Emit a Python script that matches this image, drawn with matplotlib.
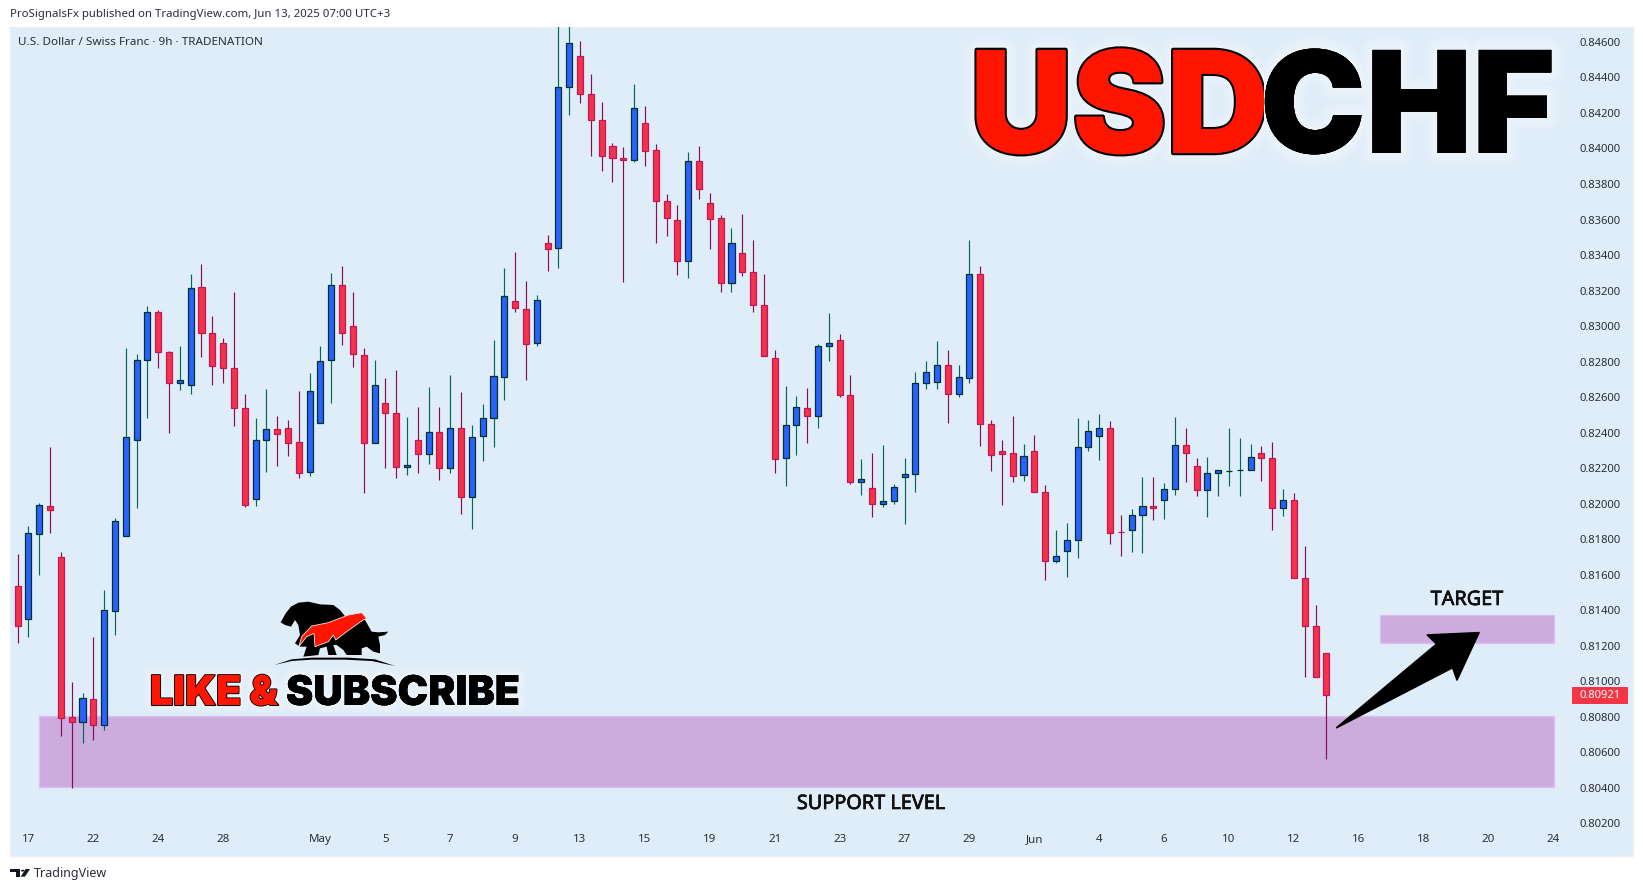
import matplotlib
matplotlib.use("Agg")
import matplotlib.pyplot as plt
import matplotlib.patheffects as pe
from matplotlib.patches import Polygon, Rectangle, Circle
from matplotlib.transforms import Bbox
import numpy as np

# Prices are given in units of 0.00001
opens_e5 = [81535,81349,81827,81985,81698,80797,80772,80898,80755,81397,
            81819,82360,82807,83078,82852,82678,82666,83218,82959,82903,
            82762,82537,82024,82357,82419,82424,82345,82177,82452,82807,
            83230,82999,82835,82340,82565,82509,82205,82357,82278,82402,
            82199,82424,82036,82379,82481,82712,83140,83095,82903,83466,
            83438,84345,84519,84305,84159,84013,83945,83934,84142,83990,
            83703,83596,83365,83928,83692,83607,83241,83410,83303,83117,
            82819,82255,82441,82537,82492,82886,82920,82610,82120,82086,
            81996,82013,82148,82165,82678,82683,82779,82616,82706,83292,
            82447,82295,82284,82160,82295,82064,81675,81732,81794,82317,
            82379,82424,81839,81850,81934,81985,82019,82081,82329,82210,
            82075,82171,82182,82188,82188,82284,82255,81974,82019,81580,
            81309,81157]
highs_e5 = [81716,81874,82004,82319,81728,80996,80934,81249,81514,81917,
            82875,82843,83113,83091,82860,82888,83293,83350,83057,82933,
            83192,82618,82482,82646,82494,82471,82634,82736,82888,83299,
            83338,83192,82877,82809,82708,82753,82488,82544,82657,82544,
            82725,82629,82443,82561,82922,83327,83417,83254,83175,83513,
            84700,84700,84606,84420,84262,84031,84009,84363,84240,84026,
            83744,83682,83980,84014,83750,83626,83552,83631,83485,83293,
            82865,82663,82606,82651,82899,83074,82955,82725,82251,82285,
            82330,82111,82257,82741,82803,82916,82865,82781,83485,83338,
            82471,82358,82494,82336,82387,82105,81851,81891,82482,82471,
            82505,82465,81936,81970,82150,82150,82116,82488,82426,82257,
            82263,82190,82426,82370,82336,82325,82347,82082,82060,81762,
            81429,81157]
lows_e5 = [81215,81249,81600,81836,80691,80400,80654,80670,80727,81262,
           81819,81975,82482,82764,82398,82640,82619,82826,82668,82680,
           82437,81981,81987,82178,82212,82268,82144,82156,82452,82567,
           82893,82770,82060,82340,82201,82144,82161,82173,82223,82133,
           82173,81942,81857,82240,82319,82584,83079,82696,82888,83310,
           83327,84189,84256,83958,83873,83811,83248,83924,83902,83468,
           83507,83288,83271,83716,83434,83192,83192,83282,83081,82830,
           82173,82099,82274,82341,82426,82803,82601,82111,82049,81925,
           81981,81998,81885,82066,82646,82646,82454,82601,82680,82325,
           82184,81992,82122,82127,82064,81570,81666,81587,81694,82296,
           82246,81773,81705,81728,81722,81908,81914,82049,82122,82043,
           81925,82043,82099,82043,82188,82127,81851,81930,81580,81024,
           81022,80562]
closes_e5 = [81313,81833,81991,81963,80794,80772,80904,80755,81399,81900,
             82374,82807,83078,82852,82678,82695,83213,82959,82773,82762,
             82537,81991,82357,82419,82391,82340,82171,82633,82802,83230,
             82959,82841,82340,82666,82509,82205,82216,82278,82402,82199,
             82424,82036,82374,82481,82717,83168,83100,82897,83145,83432,
             84345,84593,84305,84159,83956,83945,83934,84227,83984,83703,
             83607,83365,83928,83770,83601,83241,83466,83303,83117,82830,
             82250,82441,82543,82492,82886,82903,82610,82120,82137,81996,
             82013,82092,82165,82678,82740,82779,82616,82712,83292,82447,
             82272,82278,82154,82267,82064,81675,81703,81794,82317,82407,
             82424,81833,81838,81934,81985,81974,82081,82329,82284,82075,
             82171,82188,82183,82189,82261,82255,81974,82019,81580,81309,
             81022,80921]

price_ticks = [0.846,0.844,0.842,0.840,0.838,0.836,0.834,0.832,0.830,0.828,0.826,0.824,
               0.822,0.820,0.818,0.816,0.814,0.812,0.810,0.808,0.806,0.804,0.802]
time_tick_bars = [1,7,13,19,28,34,40,46,52,58,64,70,76,82,88,94,100,106,112,118,124,130,136,142]
time_tick_labels = ["17","22","24","28","May","5","7","9","13","15","19","21","23","27","29",
                    "Jun","4","6","10","12","16","18","20","24"]
last_price = 0.80921
support_zone = (2, 142, 0.80406, 0.80804)
target_zone = (126, 142, 0.81217, 0.81371)

W, H = 1643, 891
BG = "#DFEDF9"
fig = plt.figure(figsize=(W/100, H/100), dpi=100, facecolor="white")
L, R, T, B = 10, 1633, 27, 856
ax = fig.add_axes([L/W, 1-B/H, (R-L)/W, (B-T)/H], facecolor=BG)

def X(px): return px/W
def Y(py): return 1-py/H
def fp(points, ox=0, oy=0, s=1/3):
    return [(X(ox+a*s), Y(oy+b*s)) for a, b in points]

o = np.array(opens_e5)/1e5; h = np.array(highs_e5)/1e5
l = np.array(lows_e5)/1e5;  c = np.array(closes_e5)/1e5
bars = np.arange(len(o))
up = c >= o

ax.set_xlim(-0.703, 149.35)
ax.set_ylim(0.80016, 0.84684)

# Zones
for (x0, x1, y0, y1) in (support_zone, target_zone):
    ax.add_patch(Rectangle((x0, y0), x1-x0, y1-y0, facecolor="#CCABDF", edgecolor="#DDBFF0",
                           lw=1.0, zorder=1))

# Clipped bar at the left edge
ax.vlines([-0.69], 0.81310, 0.81540, color="#8F9AA0", lw=0.8, zorder=2)

# Candles
ax.vlines(bars[up], l[up], h[up], color="#00695C", lw=0.85, zorder=3)
ax.vlines(bars[~up], l[~up], h[~up], color="#880E4F", lw=0.85, zorder=3)
bw = 0.56
ax.bar(bars[up], (c-o)[up], bottom=o[up], width=bw, facecolor="#2962FF",
       edgecolor="#00332F", lw=0.9, zorder=4)
ax.bar(bars[~up], (o-c)[~up], bottom=c[~up], width=bw, facecolor="#F23349",
       edgecolor="#C2185B", lw=0.9, zorder=4)

# Axes
ax.yaxis.tick_right()
ax.set_yticks(price_ticks)
ax.set_yticklabels([f"{p:.5f}" for p in price_ticks])
ax.set_xticks(time_tick_bars)
ax.set_xticklabels(time_tick_labels)
ax.tick_params(axis="y", length=0, pad=-38.2, labelsize=8.1, labelcolor="#2A2E39")
ax.tick_params(axis="x", length=0, pad=-15.5, labelsize=8.3, labelcolor="#2A2E39")
for lab in ax.get_xticklabels()+ax.get_yticklabels():
    lab.set_family("Noto Sans")
for s in ax.spines.values():
    s.set_color("#EDF0F3"); s.set_linewidth(1.0)

# Last price tag
fig.patches.append(Rectangle((X(1572), Y(703.7)), 55.7/W, 16.4/H, transform=fig.transFigure,
                             facecolor="#F23645", edgecolor="none", zorder=5))
fig.text(X(1600), Y(695.5), f"{last_price:.5f}", color="white", fontsize=8.1, weight="bold",
         family="Noto Sans", ha="center", va="center", zorder=6)

# Header / footer text
fig.text(X(10), Y(14.5), "ProSignalsFx published on TradingView.com, Jun 13, 2025 07:00 UTC+3",
         family="Noto Sans", fontsize=8.22, color="#2A2E39", ha="left", va="center")
fig.text(X(18), Y(42.5), "U.S. Dollar / Swiss Franc · 9h · TRADENATION",
         family="Noto Sans", fontsize=8.4, color="#2A2E39", ha="left", va="center")
fig.text(X(34), Y(874), "TradingView", family="Noto Sans", fontsize=9.0, color="#2A2E39",
         ha="left", va="center")
for pts in ([(30,57),(60,57),(60,80),(47,80),(47,65),(30,65)],
            [(77,57),(90,57),(75,80),(62,80)]):
    fig.patches.append(Polygon(fp(pts, 0, 850), closed=True, transform=fig.transFigure,
                               facecolor="#131722", edgecolor="none"))
fig.patches.append(Circle((X(68/3), Y(850+62/3)), 1.7/W, transform=fig.transFigure,
                          facecolor="#131722", edgecolor="none"))

# Zone labels
label_font = dict(family="Noto Sans", fontsize=14.3, color="#111111", ha="center", va="center")
bolder = [pe.withStroke(linewidth=0.45, foreground="#111111"), pe.Normal()]
fig.text(X(871), Y(804), "SUPPORT LEVEL", **label_font).set_path_effects(bolder)
fig.text(X(1467), Y(600), "TARGET", **label_font).set_path_effects(bolder)

# Arrow
arrow = [(290,923),(590,672),(562,645),(717,638),(651,780),(638,743)]
fig.patches.append(Polygon(fp(arrow, 1240, 420), closed=True, transform=fig.transFigure,
                           facecolor="black", edgecolor="black", lw=1.2, joinstyle="round", zorder=7))

# Title
def glow(width):
    return [pe.withStroke(linewidth=width*k, foreground="white", alpha=a)
            for k, a in ((1.0, 0.07), (0.75, 0.10), (0.5, 0.14), (0.3, 0.18))]
title_font = dict(family="Inter", weight=900, fontsize=102, ha="left", va="baseline")
t2 = fig.text(X(1260), Y(153), "CHF", color="black", zorder=8, **title_font)
t2.set_path_effects(glow(20)+[pe.Normal()])
t1 = fig.text(X(970), Y(153), "USD", color="#FF1500", zorder=9, **title_font)
t1.set_path_effects(glow(20)+[pe.withStroke(linewidth=3.2, foreground="black"), pe.Normal()])
t1.set_clip_box(Bbox.from_extents(900, 0, 1264, H))
t1.set_clip_on(True)

# Like & Subscribe
sub_font = dict(family="Inter", weight=900, fontsize=29.5, ha="left", va="baseline", zorder=8)
t3 = fig.text(X(150), Y(705), "LIKE &", color="#FF1500", **sub_font)
t3.set_path_effects(glow(12)+[pe.withStroke(linewidth=1.5, foreground="black"), pe.Normal()])
t4 = fig.text(X(286), Y(705), "SUBSCRIBE", color="black", **sub_font)
t4.set_path_effects(glow(12)+[pe.Normal()])

# Bull and bear emblem
bear = [(47,97),(62,70),(78,50),(100,38),(130,35),(165,43),(205,45),(225,60),(245,85),(300,90),
        (320,125),(340,127),(370,125),(360,135),(340,140),(345,165),(345,190),(325,185),(305,170),
        (290,175),(290,195),(245,195),(235,180),(215,165),(205,165),(215,195),(190,195),(185,170),
        (165,175),(160,195),(115,200),(125,170),(105,170),(90,160),(105,135),(100,105),(90,90),
        (78,110),(60,105)]
swoosh = [(100,175),(110,140),(140,108),(190,98),(250,75),(290,68),(305,85),(295,90),(280,100),
          (245,125),(212,150),(205,135),(190,155),(150,170),(147,130),(125,140),(105,165)]
ground = [(28,225),(80,208),(140,203),(250,203),(330,208),(390,228),(320,213),(240,209),(140,209),(80,213)]
for pts, col, ec in ((bear, "black", "none"), (swoosh, "#FF1500", "#E8E8E8"), (ground, "black", "none")):
    fig.patches.append(Polygon(fp(pts, 265, 590), closed=True, transform=fig.transFigure,
                               facecolor=col, edgecolor=ec, lw=0.6, zorder=7))

fig.savefig("out.png", dpi=100, facecolor="white")
